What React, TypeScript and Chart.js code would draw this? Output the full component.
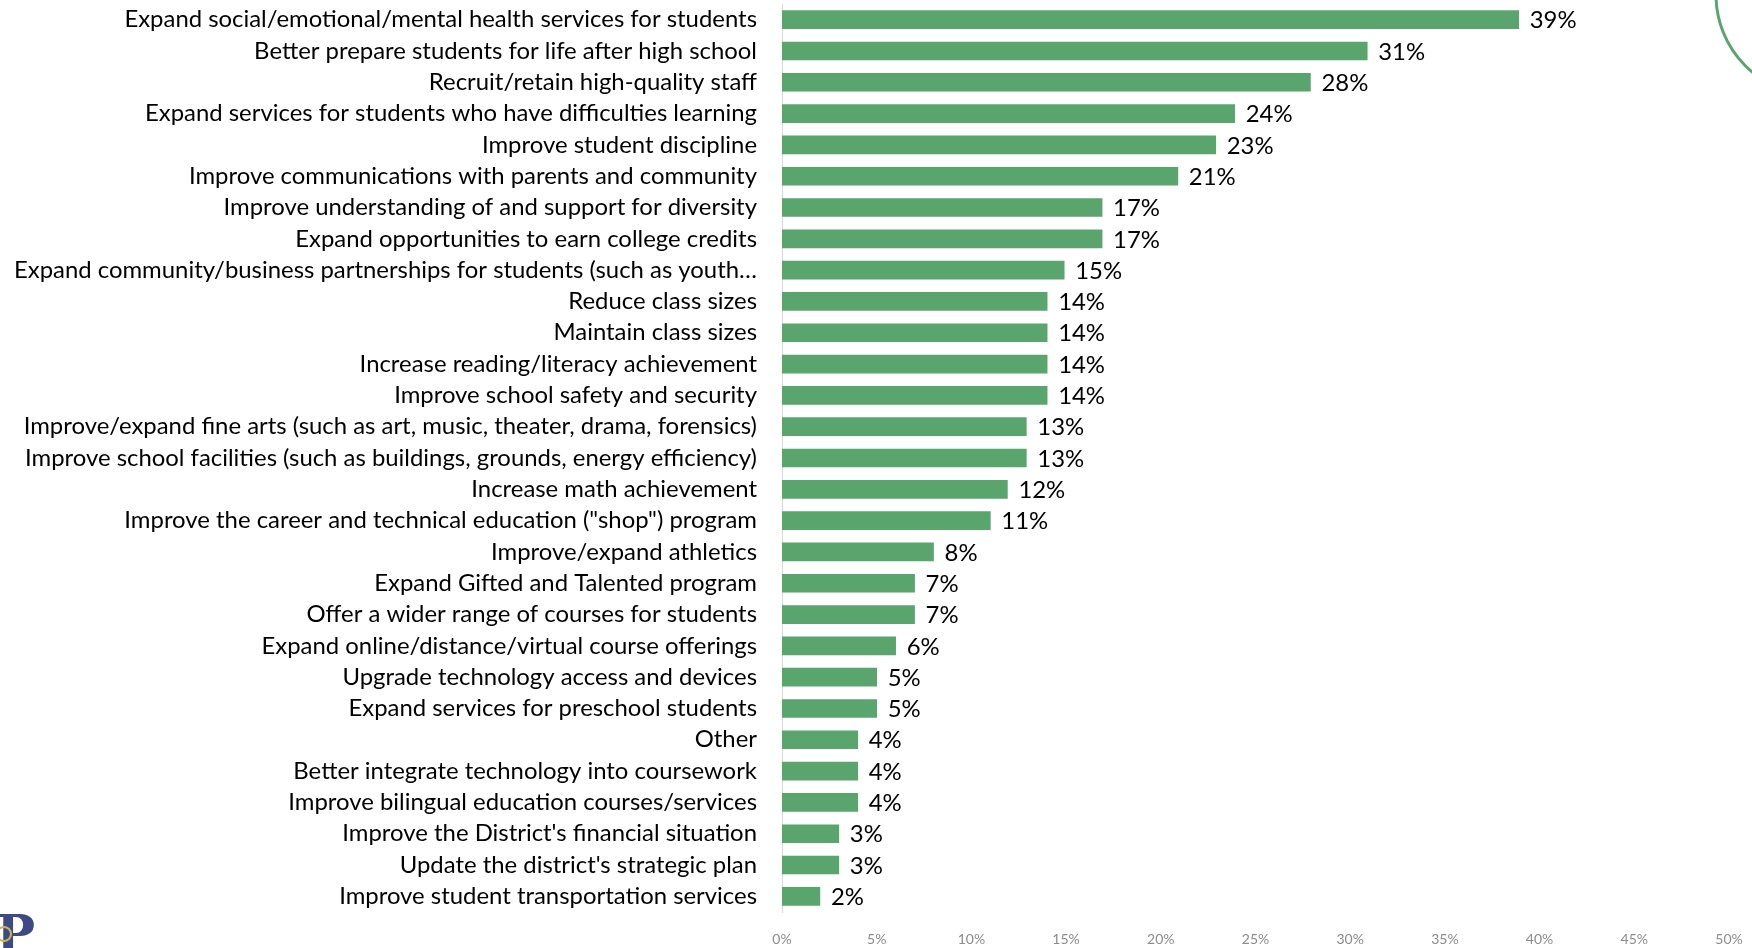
import React, { useEffect, useRef } from "react";
import { Chart, registerables } from "chart.js";

Chart.register(...registerables);

const categories: string[] = [
  "Expand social/emotional/mental health services for students",
  "Better prepare students for life after high school",
  "Recruit/retain high-quality staff",
  "Expand services for students who have difficulties learning",
  "Improve student discipline",
  "Improve communications with parents and community",
  "Improve understanding of and support for diversity",
  "Expand opportunities to earn college credits",
  "Expand community/business partnerships for students (such as youth…",
  "Reduce class sizes",
  "Maintain class sizes",
  "Increase reading/literacy achievement",
  "Improve school safety and security",
  "Improve/expand fine arts (such as art, music, theater, drama, forensics)",
  "Improve school facilities (such as buildings, grounds, energy efficiency)",
  "Increase math achievement",
  "Improve the career and technical education (\"shop\") program",
  "Improve/expand athletics",
  "Expand Gifted and Talented program",
  "Offer a wider range of courses for students",
  "Expand online/distance/virtual course offerings",
  "Upgrade technology access and devices",
  "Expand services for preschool students",
  "Other",
  "Better integrate technology into coursework",
  "Improve bilingual education courses/services",
  "Improve the District's financial situation",
  "Update the district's strategic plan",
  "Improve student transportation services",
];

const values: number[] = [
  38.9, 30.9, 27.9, 23.9, 22.9, 20.9, 16.9, 16.9, 14.9, 14, 14, 14, 14, 12.9,
  12.9, 11.9, 11, 8, 7, 7, 6, 5, 5, 4, 4, 4, 3, 3, 2,
];

const valueLabels: string[] = [
  "39%", "31%", "28%", "24%", "23%", "21%", "17%", "17%", "15%", "14%", "14%",
  "14%", "14%", "13%", "13%", "12%", "11%", "8%", "7%", "7%", "6%", "5%", "5%",
  "4%", "4%", "4%", "3%", "3%", "2%",
];

const xTicks: number[] = [0, 5, 10, 15, 20, 25, 30, 35, 40, 45, 50];

const FONT = "Lato, 'Open Sans', sans-serif";
const BAR_COLOR = "rgb(90,165,110)";

export default function App() {
  const ref = useRef<HTMLCanvasElement | null>(null);

  useEffect(() => {
    const canvas = ref.current;
    if (!canvas) return;
    document.body.style.margin = "0";

    // fit label font so the first label spans ~632px like the reference
    const mctx = canvas.getContext("2d")!;
    mctx.font = `20px ${FONT}`;
    const w = mctx.measureText(categories[0]).width;
    const labelSize = Math.round((20 * 632) / w * 10) / 10;

    const valueLabelPlugin = {
      id: "valueLabels",
      afterDatasetsDraw(chart: any) {
        const ctx = chart.ctx;
        const meta = chart.getDatasetMeta(0);
        ctx.save();
        ctx.font = `${labelSize}px ${FONT}`;
        ctx.fillStyle = "#000";
        ctx.textAlign = "left";
        ctx.textBaseline = "middle";
        meta.data.forEach((el: any, i: number) => {
          ctx.fillText(valueLabels[i], el.x + 11, el.y + 1);
        });
        ctx.restore();
      },
    };

    const decorPlugin = {
      id: "decor",
      afterDraw(chart: any) {
        const ctx = chart.ctx;
        ctx.save();
        ctx.strokeStyle = "rgb(90,165,110)";
        ctx.lineWidth = 3;
        ctx.beginPath();
        ctx.arc(1816, -5, 100, 0, Math.PI * 2);
        ctx.stroke();
        // logo
        ctx.fillStyle = "#3d4a84";
        ctx.font = "bold 52px 'DejaVu Serif', serif";
        ctx.textBaseline = "alphabetic";
        ctx.textAlign = "left";
        ctx.fillText("P", -4, 952);
        ctx.strokeStyle = "#c9b64e";
        ctx.lineWidth = 2;
        ctx.beginPath();
        ctx.arc(4, 934, 7, 0, Math.PI * 2);
        ctx.stroke();
        ctx.restore();
      },
    };

    const chart = new Chart(canvas, {
      type: "bar",
      data: {
        labels: categories,
        datasets: [
          {
            data: values,
            backgroundColor: BAR_COLOR,
            borderWidth: 0,
            barThickness: 18,
          },
        ],
      },
      options: {
        indexAxis: "y",
        responsive: false,
        devicePixelRatio: 1,
        animation: false,
        layout: { padding: { top: 4, right: 23, left: 0, bottom: 0 } },
        plugins: {
          legend: { display: false },
          tooltip: { enabled: false },
        },
        scales: {
          x: {
            type: "linear",
            min: 0,
            max: 50,
            afterBuildTicks(scale: any) {
              scale.ticks = xTicks.map((v) => ({ value: v }));
            },
            afterFit(scale: any) {
              scale.height = 36;
              scale.paddingLeft = 0;
              scale.paddingRight = 0;
            },
            ticks: {
              callback: (v: any) => `${v}%`,
              color: "#8c8c8c",
              font: { family: FONT, size: 14 },
              padding: 19,
              maxRotation: 0,
            },
            grid: { display: false, drawTicks: false },
            border: { display: false },
          },
          y: {
            type: "category",
            afterFit(scale: any) {
              scale.width = 782;
              scale.paddingTop = 0;
              scale.paddingBottom = 0;
            },
            ticks: {
              color: "#000",
              font: { family: FONT, size: labelSize },
              padding: 25,
              autoSkip: false,
            },
            grid: { display: false, drawTicks: false },
            border: { display: true, color: "#d9d9d9", width: 1 },
          },
        },
      },
      plugins: [valueLabelPlugin, decorPlugin],
    });

    return () => chart.destroy();
  }, []);

  return (
    <div style={{ position: "absolute", left: 0, top: 0, width: 1752, height: 948, background: "#fff" }}>
      <canvas ref={ref} width={1752} height={948} style={{ display: "block" }} />
    </div>
  );
}
